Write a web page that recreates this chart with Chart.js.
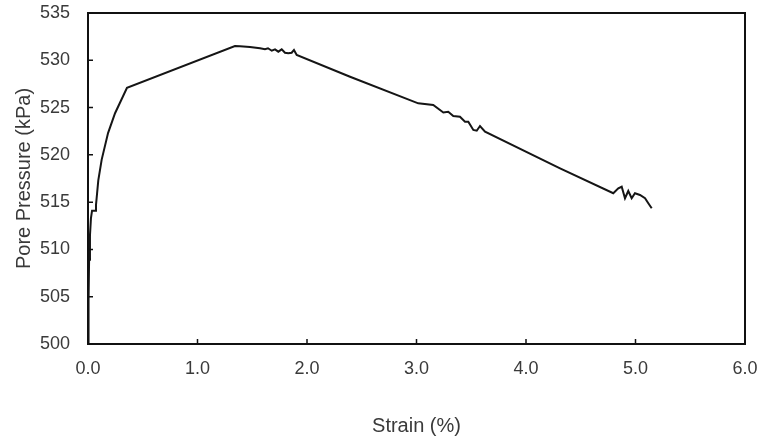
<!DOCTYPE html>
<html>
<head>
<meta charset="utf-8">
<script src="https://cdn.jsdelivr.net/npm/chart.js@4/dist/chart.umd.min.js"></script>
<style>
  html, body { margin: 0; padding: 0; background: #fff; }
  #wrap { width: 759px; height: 441px; }
</style>
</head>
<body>
<div id="wrap"><canvas id="myChart"></canvas></div>
<script>
// strain (%) vs pore pressure (kPa)
const strain = [0, 0.005, 0.01, 0.018, 0.027, 0.037, 0.064, 0.073, 0.094, 0.125, 0.183, 0.247, 0.356,
  1.342, 1.388, 1.479, 1.571, 1.616, 1.644, 1.678, 1.708, 1.738, 1.769, 1.799, 1.829, 1.860, 1.881, 1.906,
  2.393, 3.016, 3.153, 3.245, 3.290, 3.336, 3.397, 3.443, 3.473, 3.519, 3.550, 3.580, 3.626,
  4.311, 4.797, 4.843, 4.874, 4.904, 4.934, 4.965, 4.995, 5.041, 5.087, 5.117, 5.148];
const porePressure = [500, 504.6, 508.9, 511.5, 513.3, 514.1, 514.1, 514.7, 517.3, 519.5, 522.3, 524.4, 527.1,
  531.5, 531.48, 531.41, 531.27, 531.16, 531.27, 531.01, 531.16, 530.91, 531.16, 530.8, 530.74, 530.8, 531.09, 530.56,
  528.26, 525.45, 525.27, 524.48, 524.56, 524.11, 524.03, 523.51, 523.51, 522.63, 522.55, 523.05, 522.45,
  518.58, 515.94, 516.46, 516.63, 515.41, 516.18, 515.41, 515.94, 515.76, 515.41, 514.88, 514.35];

const xTicks = [0, 1, 2, 3, 4, 5, 6];
const yTicks = [500, 505, 510, 515, 520, 525, 530, 535];

const points = strain.map((s, i) => ({ x: s, y: porePressure[i] }));
const textColor = "#3a3a3a";

// box around the plot + inward tick marks
const frame = {
  id: "frame",
  afterDraw(chart) {
    const { ctx, chartArea: a, scales } = chart;
    ctx.save();
    ctx.strokeStyle = "#111";
    ctx.lineWidth = 2;
    ctx.strokeRect(a.left, a.top, a.right - a.left, a.bottom - a.top);
    ctx.lineWidth = 1.5;
    ctx.beginPath();
    xTicks.forEach(v => {
      const px = scales.x.getPixelForValue(v);
      ctx.moveTo(px, a.bottom);
      ctx.lineTo(px, a.bottom - 5);
    });
    yTicks.forEach(v => {
      const py = scales.y.getPixelForValue(v);
      ctx.moveTo(a.left, py);
      ctx.lineTo(a.left + 5, py);
    });
    ctx.stroke();
    ctx.restore();
  }
};

new Chart(document.getElementById("myChart"), {
  type: "scatter",
  data: {
    datasets: [{
      data: points,
      showLine: true,
      borderColor: "#151515",
      borderWidth: 2,
      pointRadius: 0,
      tension: 0
    }]
  },
  options: {
    responsive: true,
    maintainAspectRatio: false,
    animation: false,
    layout: { padding: { left: 12, right: 14, top: 13, bottom: 3 } },
    plugins: { legend: { display: false }, tooltip: { enabled: false } },
    scales: {
      x: {
        type: "linear",
        min: 0,
        max: 6,
        afterBuildTicks: s => { s.ticks = xTicks.map(v => ({ value: v })); },
        afterFit: s => { s.height = 94; s.paddingLeft = 0; s.paddingRight = 0; },
        grid: { display: false, drawTicks: false },
        border: { display: false },
        ticks: {
          padding: 14,
          color: textColor,
          font: { family: "Liberation Sans, Arial", size: 18 },
          callback: v => Number(v).toFixed(1)
        },
        title: {
          display: true,
          text: "Strain (%)",
          color: textColor,
          padding: 0,
          font: { family: "Liberation Sans, Arial", size: 20 }
        }
      },
      y: {
        min: 500,
        max: 535,
        afterBuildTicks: s => { s.ticks = yTicks.map(v => ({ value: v })); },
        afterFit: s => { s.width = 76; s.paddingTop = 0; s.paddingBottom = 0; },
        grid: { display: false, drawTicks: false },
        border: { display: false },
        ticks: {
          padding: 18,
          color: textColor,
          font: { family: "Liberation Sans, Arial", size: 18 }
        },
        title: {
          display: true,
          text: "Pore Pressure (kPa)",
          color: textColor,
          padding: 0,
          font: { family: "Liberation Sans, Arial", size: 20 }
        }
      }
    }
  },
  plugins: [frame]
});
</script>
</body>
</html>
